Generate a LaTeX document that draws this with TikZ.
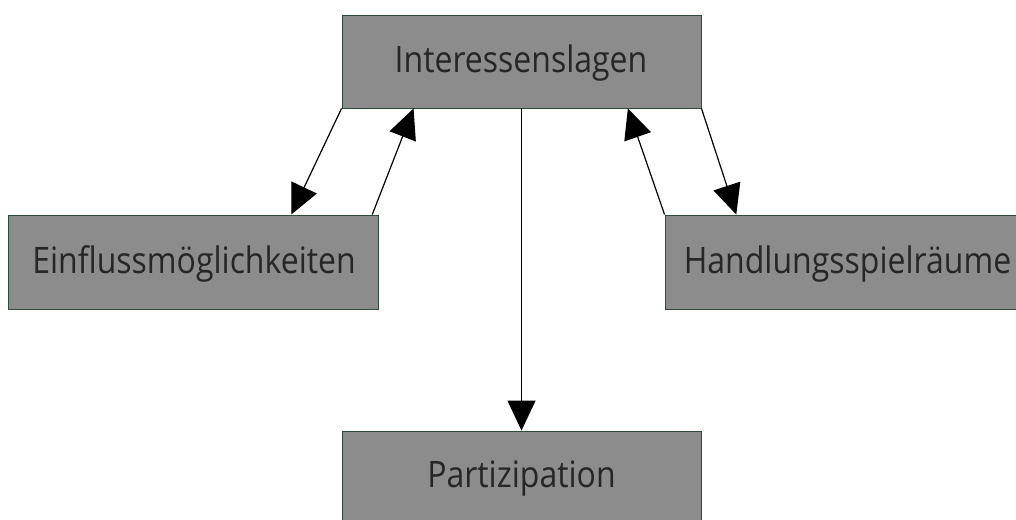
\documentclass[tikz,border=0pt]{standalone}
\usepackage{fontspec}
\setmainfont{Open Sans}
\usetikzlibrary{arrows.meta,calc}
\definecolor{boxfill}{HTML}{8C8C8C}
\definecolor{boxline}{HTML}{2E4A38}
\newcommand{\tallt}[1]{\scalebox{1}[1.14]{#1}}
\begin{document}
\begin{tikzpicture}[x=1pt,y=-1pt,
  box/.style={draw=boxline,line width=0.9pt,fill=boxfill,inner sep=0pt},
  txt/.style={inner sep=0pt,anchor=base,font=\fontsize{32}{38}\selectfont,text=black!85},
  conn/.style={line width=1.2pt,-{Triangle[length=30pt,width=28pt]}}]
\useasboundingbox (0,0) rectangle (1016,519);
\node[box,minimum width=359pt,minimum height=93pt] (I) at (521.5,61.5) {};
\node[txt] (It) at (521,72.7) {\tallt{Interessenslagen}};
\node[box,minimum width=370pt,minimum height=94pt] (E) at (193,262) {};
\node[txt] (Et) at (194,273.3) {\tallt{Einflussmöglichkeiten}};
\node[box,minimum width=370pt,minimum height=94pt] (H) at (850,262) {};
\node[txt] (Ht) at (847.5,273.3) {\tallt{Handlungsspielräume}};
\node[box,minimum width=359pt,minimum height=93pt] (P) at (521.5,477.5) {};
\node[txt] (Pt) at (521.5,487.7) {\tallt{Partizipation}};
\draw[conn] (I.south west) -- ($(E.north west)+(283.7,0)$);
\draw[conn] ($(E.north west)+(364.7,0)$) -- ($(I.south west)+(72,0)$);
\draw[conn] (I.south) -- (P.north);
\draw[conn] (H.north west) -- ($(I.south west)+(286.3,0)$);
\draw[conn] (I.south east) -- ($(H.north west)+(71.7,0)$);
\end{tikzpicture}
\end{document}
